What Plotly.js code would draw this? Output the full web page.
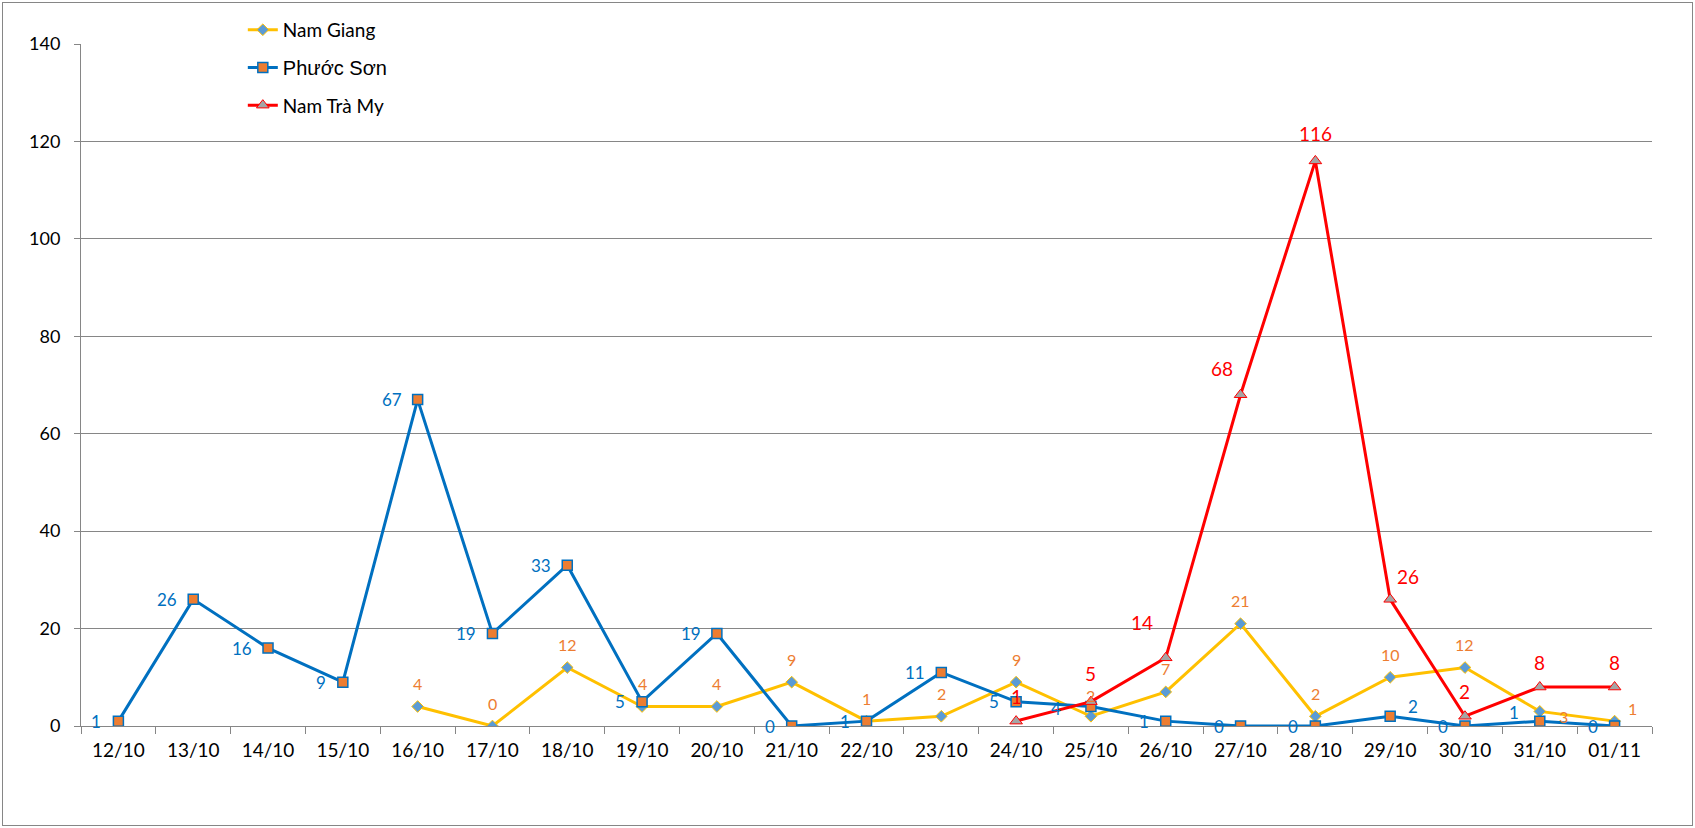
<!DOCTYPE html>
<html>
<head>
<meta charset="utf-8">
<script src="https://cdn.plot.ly/plotly-3.0.1.min.js"></script>
<style>
  html, body { margin: 0; padding: 0; background: #fff; }
  #wrap { position: relative; width: 1695px; height: 828px; }
  #chart { width: 1695px; height: 828px; }
  #frame { position: absolute; left: 2px; top: 2px; width: 1691px; height: 824px;
           border: 1px solid #868686; box-sizing: border-box; pointer-events: none; }
</style>
</head>
<body>
<div id="wrap"><div id="chart"></div><div id="frame"></div></div>
<script>
// ---- data ----
const categories = ['12/10','13/10','14/10','15/10','16/10','17/10','18/10','19/10','20/10','21/10',
                    '22/10','23/10','24/10','25/10','26/10','27/10','28/10','29/10','30/10','31/10','01/11'];
const namGiang = [null,null,null,null,4,0,12,4,4,9,1,2,9,2,7,21,2,10,12,3,1];
const phuocSon = [1,26,16,9,67,19,33,5,19,0,1,11,5,4,1,0,0,2,0,1,0];
const namTraMy = [null,null,null,null,null,null,null,null,null,null,null,null,1,5,14,68,116,26,2,8,8];
const seriesNames = ['Nam Giang', 'Phước Sơn', 'Nam Trà My'];

// ---- label offsets (pixels, style only) ----
const ngDx = [0,0,0,0,0,0,0,0,0,0,0,0,0,0,0,0,0,0,0,24,18];
const ngDy = [23,23,23,23,23,23,23,23,23,23,23,23,23,21,23,23,23,23,23,-5,13];
const psDx = [-22,-26,-26,-22,-26,-26,-26,-22,-26,-22,-22,-26,-22,-35,-22,-22,-22,23,-22,-26,-22];
const psDy = [0,0,0,0,0,0,0,0,0,0,0,0,0,-2,0,0,0,10,0,9,0];
const tmDx = [0,0,0,0,0,0,0,0,0,0,0,0,0,0,-24,-19,0,18,0,0,0];
const tmDy = [25,25,25,25,25,25,25,25,25,25,25,25,25,28,35,26,27,23,25,25,25];

const FONT = 'Lato, "Open Sans", sans-serif';

const traces = [
  {
    type: 'scatter', mode: 'lines+markers', name: seriesNames[0], legendgroup: 'a',
    x: categories, y: namGiang,
    line: { color: '#FFC000', width: 3 },
    marker: { symbol: 'diamond', size: 9, color: '#5B9BD5', line: { color: '#FFC000', width: 1 } },
    hoverinfo: 'x+y+name'
  },
  {
    type: 'scatter', mode: 'lines+markers', legendgroup: 'b',
    name: '<span style="font-family:Liberation Sans, Arial, sans-serif;font-size:20px">' + seriesNames[1] + '</span>',
    x: categories, y: phuocSon,
    line: { color: '#0070C0', width: 3 },
    marker: { symbol: 'square', size: 10, color: '#ED7D31', line: { color: '#0070C0', width: 1.5 } },
    hoverinfo: 'x+y'
  },
  {
    type: 'scatter', mode: 'lines+markers', name: seriesNames[2], legendgroup: 'c',
    x: categories, y: namTraMy,
    line: { color: '#FF0000', width: 3 },
    marker: { symbol: 'triangle-up', size: 11, color: '#A5A5A5', line: { color: '#FF0000', width: 1 } },
    hoverinfo: 'x+y+name'
  }
];

function labels(vals, dx, dy, color, size) {
  const out = [];
  vals.forEach((v, i) => {
    if (v === null) return;
    out.push({
      x: categories[i], y: v, xref: 'x', yref: 'y', text: String(v), showarrow: false,
      xanchor: 'center', yanchor: 'middle', xshift: dx[i], yshift: dy[i],
      font: { family: FONT, size: size, color: color }
    });
  });
  return out;
}

const annotations = [].concat(
  labels(namGiang, ngDx, ngDy, '#ED7D31', 16),
  labels(phuocSon, psDx, psDy, '#0070C0', 17),
  labels(namTraMy, tmDx, tmDy, '#FF0000', 19)
);

const layout = {
  width: 1695, height: 828,
  margin: { l: 81, r: 43, t: 43, b: 102, pad: 0 },
  paper_bgcolor: '#ffffff', plot_bgcolor: '#ffffff',
  font: { family: FONT, size: 18, color: '#000000' },
  showlegend: true,
  legend: {
    x: 0.103, y: 1.047, xanchor: 'left', yanchor: 'top',
    bgcolor: 'rgba(0,0,0,0)', borderwidth: 0,
    font: { family: FONT, size: 19, color: '#000000' },
    tracegroupgap: 10, traceorder: 'grouped'
  },
  xaxis: {
    type: 'category', categoryorder: 'array', categoryarray: categories,
    range: [-0.5, categories.length - 0.5], autorange: false,
    showgrid: false, zeroline: false,
    showline: true, linecolor: '#868686', linewidth: 1,
    ticks: 'outside', ticklen: 7, tickcolor: '#868686', tickwidth: 1, tickson: 'boundaries',
    tickfont: { family: FONT, size: 19, color: '#000000' },
    ticklabelstandoff: 7,
    fixedrange: true
  },
  yaxis: {
    range: [0, 140], dtick: 20, tick0: 0, autorange: false,
    showgrid: true, gridcolor: '#868686', gridwidth: 1, zeroline: false,
    showline: true, linecolor: '#868686', linewidth: 1,
    ticks: 'outside', ticklen: 6, tickcolor: '#868686', tickwidth: 1,
    tickfont: { family: FONT, size: 18, color: '#000000' },
    ticklabelstandoff: 10,
    fixedrange: true
  },
  annotations: annotations
};

Plotly.newPlot('chart', traces, layout, { staticPlot: true, displayModeBar: false });
</script>
</body>
</html>
